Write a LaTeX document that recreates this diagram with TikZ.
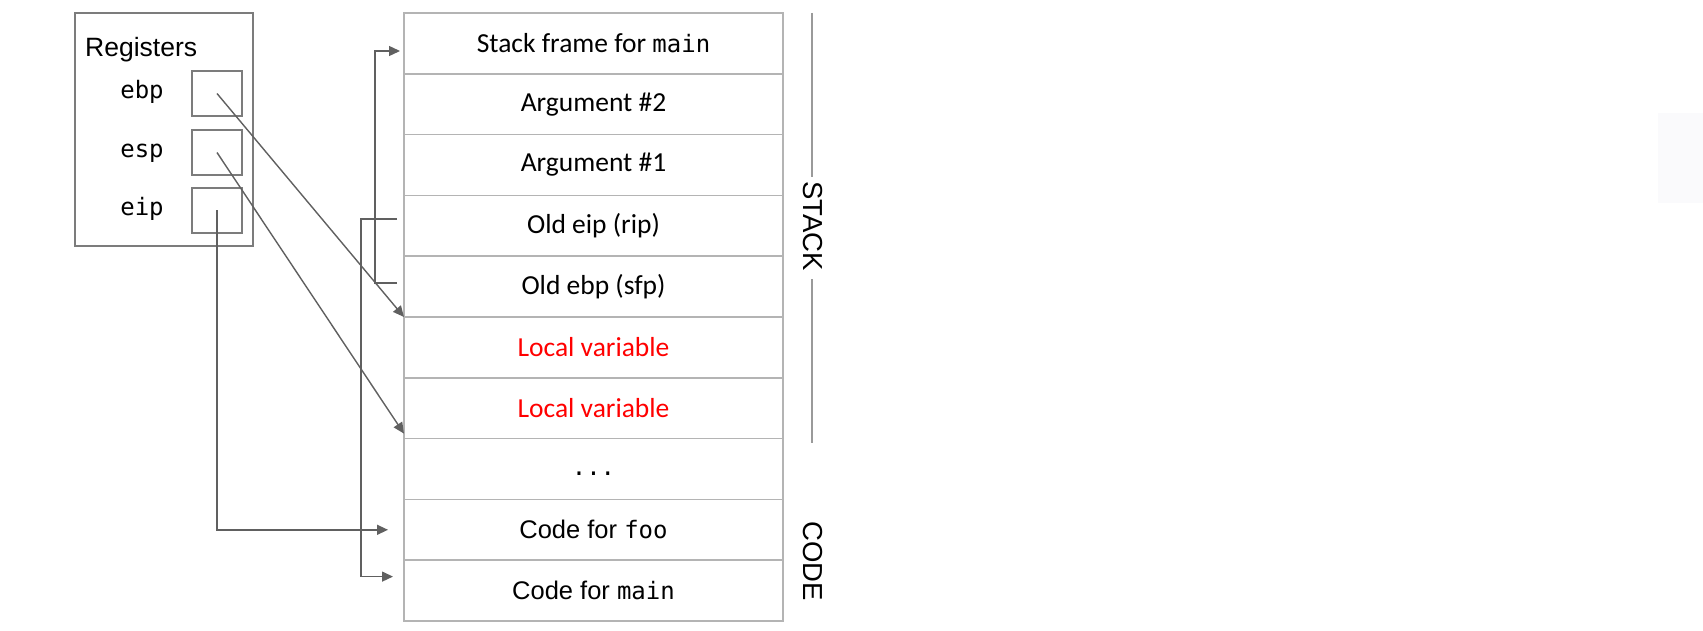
\documentclass[tikz,border=0pt]{standalone}
\usepackage{fontspec}
\setmainfont{Carlito}
\setmonofont{DejaVu Sans Mono}
\newfontfamily\arialfont{Liberation Sans}
\usetikzlibrary{arrows.meta,calc}
\definecolor{rowline}{HTML}{B4B4B4}
\definecolor{conn}{HTML}{606060}
\definecolor{regline}{HTML}{7C7C7C}
\definecolor{sideline}{HTML}{9A9A9A}
\definecolor{lvred}{HTML}{FF0000}
\definecolor{faint}{HTML}{FAFAFC}
\begin{document}
\begin{tikzpicture}[x=1pt,y=-1pt,
  row/.style={draw=rowline, line width=1.5pt, minimum width=379pt, minimum height=60.8pt,
    inner sep=0pt, outer sep=0pt, font=\fontsize{27.5}{30}\selectfont},
  sansrow/.style={row, font=\arialfont\fontsize{25.5}{30}\selectfont},
  regbox/.style={draw=regline, line width=1.5pt, minimum width=50pt, minimum height=45pt,
    inner sep=0pt, outer sep=0pt},
  reglabel/.style={anchor=base, inner sep=0pt, font=\ttfamily\fontsize{24}{28}\selectfont},
  connector/.style={draw=conn, line width=1.4pt, -{Triangle[length=11pt,width=10pt]}},
  sidelabel/.style={rotate=-90, inner sep=0pt, font=\arialfont\fontsize{27.5}{30}\selectfont}]
\useasboundingbox (0,0) rectangle (1703,631);
\fill[faint] (1658,113) rectangle (1703,203);

% registers
\node[draw=regline, line width=1.5pt, minimum width=178pt, minimum height=233pt,
      inner sep=0pt, outer sep=0pt] (regs) at (164,129.5) {};
\node[anchor=base west, inner sep=0pt, font=\arialfont\fontsize{26.5}{30}\selectfont] (regtitle) at (85,57) {Registers};
\node[regbox] (bebp) at (217,93.5) {};
\node[regbox] (besp) at (217,152.5) {};
\node[regbox] (beip) at (217,210.5) {};
\node[reglabel] (lebp) at (142,98.3) {ebp};
\node[reglabel] (lesp) at (142,157.3) {esp};
\node[reglabel] (leip) at (142,215.3) {eip};

% stack / code rows
\def\mono#1{{\ttfamily\fontsize{24}{28}\selectfont #1}}
\node[row] (r1) at (593.5,43.4) {Stack frame for \mono{main}};
\node[row] (r2) at (593.5,104.2) {Argument \#2};
\node[row] (r3) at (593.5,165.0) {Argument \#1};
\node[row] (r4) at (593.5,225.8) {Old eip (rip)};
\node[row] (r5) at (593.5,286.6) {Old ebp (sfp)};
\node[row, text=lvred] (r6) at (593.5,347.4) {Local variable};
\node[row, text=lvred] (r7) at (593.5,408.2) {Local variable};
\node[row] (r8) at (593.5,469.0) {\vphantom{Ag}\mono{...}};
\node[sansrow] (r9) at (593.5,529.8) {Code for \mono{foo}};
\node[sansrow] (r10) at (593.5,590.6) {Code for \mono{main}};

% side labels
\node[sidelabel] (stacklbl) at (813,226) {STACK};
\node[sidelabel] (codelbl) at (813,561) {CODE};
\coordinate (s1) at (812,13);
\coordinate (s2) at (812,177);
\coordinate (s3) at (812,279);
\coordinate (s4) at (812,443);
\draw[sideline, line width=1.4pt] (s1) -- (s2);
\draw[sideline, line width=1.4pt] (s3) -- (s4);

% connectors
\draw[connector] (bebp.center) -- (r5.south west);
\draw[connector] (besp.center) -- ($(r7.south west)+(0,-5)$);
\draw[connector] (beip.center) |- ($(r9.west)+(-16,0)$);

\coordinate (ripA) at ($(r4.west)+(-7,-6.6)$);
\coordinate (ripB) at ($(r10.west)+(-11,-14)$);
\draw[connector] (ripA) -- ++(-36,0) |- (ripB);

\coordinate (sfpA) at ($(r5.west)+(-7,-3.6)$);
\coordinate (sfpB) at ($(r1.west)+(-4,7.6)$);
\draw[connector] (sfpA) -- ++(-22,0) |- (sfpB);
\end{tikzpicture}
\end{document}
